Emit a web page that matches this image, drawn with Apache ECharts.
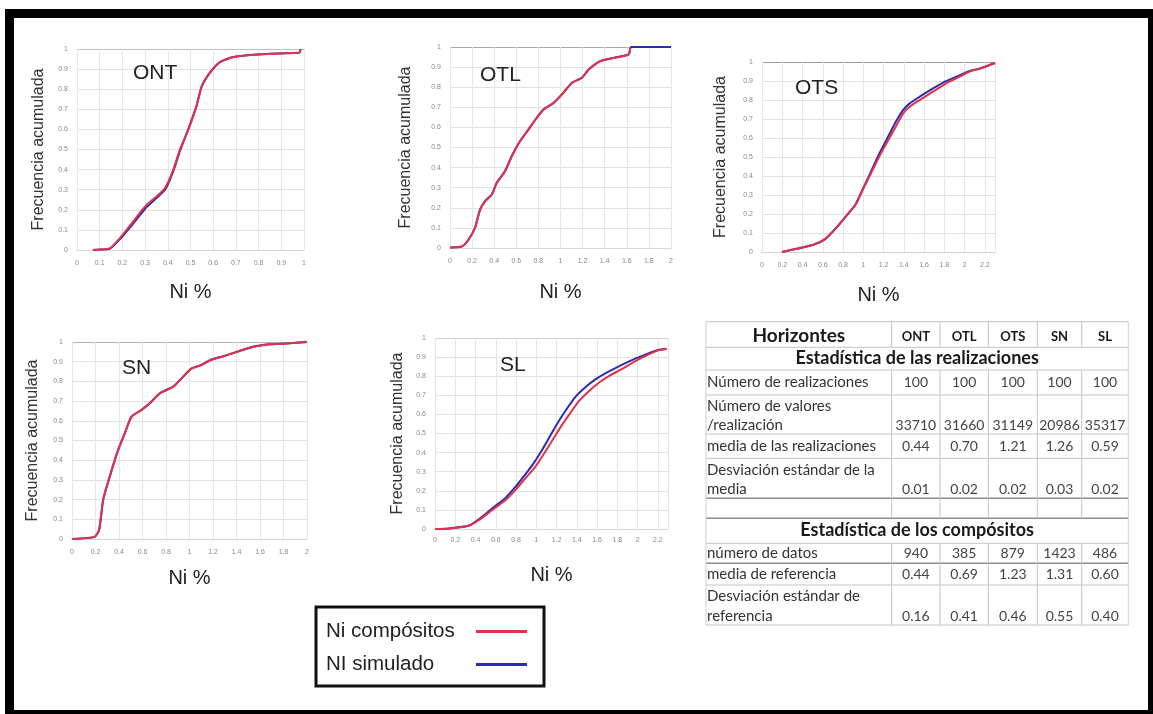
<!DOCTYPE html>
<html>
<head>
<meta charset="utf-8">
<script src="https://cdn.jsdelivr.net/npm/echarts@6/dist/echarts.min.js"></script>
<style>
html,body{margin:0;padding:0;background:#fff;}
#chart{width:1153px;height:714px;}
</style>
</head>
<body>
<div id="chart"></div>
<script>
// ---------------- DATA ----------------
var panelNames = ['ONT', 'OTL', 'OTS', 'SN', 'SL'];
var seriesNames = ['Ni compósitos', 'NI simulado'];
var xAxisTitle = 'Ni %';
var yAxisTitle = 'Frecuencia acumulada';
var xMax = [1, 2, 2.3, 2, 2.3];
var xStep = [0.1, 0.2, 0.2, 0.2, 0.2];

// cumulative frequency curves [Ni %, cumulative frequency]
var ontComp = [[0.07,0],[0.1,0.002],[0.144,0.008],[0.188,0.058],[0.247,0.141],[0.299,0.216],[0.35,0.266],[0.387,0.307],[0.424,0.399],[0.453,0.498],[0.49,0.598],[0.526,0.714],[0.549,0.814],[0.585,0.88],[0.629,0.934],[0.688,0.96],[0.776,0.972],[0.924,0.98],[0.98,0.983],[0.985,1.0]];
var ontSim  = [[0.07,0],[0.1,0.002],[0.144,0.006],[0.19,0.055],[0.25,0.135],[0.3,0.205],[0.35,0.258],[0.39,0.303],[0.425,0.395],[0.455,0.497],[0.49,0.6],[0.525,0.712],[0.55,0.815],[0.585,0.882],[0.63,0.935],[0.69,0.96],[0.78,0.972],[0.92,0.979],[0.98,0.982],[0.985,0.998]];

var otlComp = [[0,0.003],[0.106,0.008],[0.166,0.041],[0.227,0.1],[0.272,0.19],[0.317,0.232],[0.378,0.265],[0.423,0.323],[0.498,0.381],[0.559,0.456],[0.634,0.531],[0.71,0.589],[0.785,0.647],[0.846,0.688],[0.937,0.721],[1.012,0.763],[1.103,0.821],[1.193,0.846],[1.254,0.887],[1.359,0.929],[1.48,0.945],[1.616,0.962],[1.631,0.995]];
var otlSim  = [[0,0.003],[0.106,0.007],[0.166,0.04],[0.227,0.102],[0.272,0.192],[0.317,0.233],[0.378,0.266],[0.423,0.325],[0.498,0.383],[0.559,0.458],[0.634,0.532],[0.71,0.59],[0.785,0.648],[0.846,0.689],[0.937,0.722],[1.012,0.764],[1.103,0.822],[1.193,0.847],[1.254,0.888],[1.359,0.93],[1.48,0.946],[1.616,0.963],[1.64,1],[2,1]];

var otsComp = [[0.197,0],[0.345,0.018],[0.509,0.039],[0.624,0.07],[0.739,0.132],[0.837,0.194],[0.92,0.246],[1.002,0.335],[1.084,0.423],[1.166,0.511],[1.248,0.59],[1.33,0.669],[1.396,0.731],[1.461,0.766],[1.56,0.801],[1.691,0.845],[1.823,0.889],[1.954,0.924],[2.053,0.951],[2.151,0.965],[2.3,0.995]];
var otsSim  = [[0.197,0],[0.345,0.017],[0.509,0.038],[0.624,0.068],[0.739,0.13],[0.837,0.193],[0.92,0.247],[1.0,0.337],[1.08,0.428],[1.16,0.52],[1.24,0.602],[1.32,0.684],[1.39,0.745],[1.455,0.781],[1.55,0.815],[1.68,0.858],[1.81,0.898],[1.95,0.93],[2.05,0.953],[2.15,0.966],[2.3,0.995]];

var snComp = [[0,0],[0.193,0.012],[0.23,0.046],[0.264,0.198],[0.32,0.316],[0.391,0.451],[0.448,0.535],[0.505,0.62],[0.59,0.654],[0.661,0.688],[0.746,0.738],[0.86,0.772],[0.93,0.814],[1.016,0.865],[1.1,0.882],[1.186,0.91],[1.285,0.927],[1.399,0.949],[1.54,0.975],[1.682,0.988],[1.824,0.992],[2,1]];
var snSim  = [[0,0],[0.193,0.011],[0.232,0.048],[0.266,0.2],[0.322,0.318],[0.393,0.452],[0.45,0.537],[0.507,0.621],[0.592,0.656],[0.663,0.69],[0.748,0.74],[0.862,0.774],[0.932,0.815],[1.018,0.866],[1.102,0.884],[1.188,0.911],[1.287,0.928],[1.4,0.95],[1.54,0.976],[1.682,0.988],[1.824,0.993],[2,1]];

var slComp = [[0,0],[0.14,0.003],[0.337,0.017],[0.435,0.047],[0.566,0.1],[0.697,0.152],[0.795,0.205],[0.893,0.266],[0.992,0.327],[1.09,0.406],[1.172,0.476],[1.254,0.545],[1.336,0.607],[1.418,0.668],[1.516,0.72],[1.614,0.764],[1.712,0.799],[1.843,0.837],[1.974,0.878],[2.105,0.913],[2.203,0.935],[2.285,0.942]];
var slSim  = [[0,0],[0.14,0.003],[0.337,0.018],[0.43,0.05],[0.56,0.106],[0.69,0.16],[0.785,0.215],[0.88,0.278],[0.975,0.345],[1.07,0.425],[1.15,0.5],[1.23,0.572],[1.31,0.636],[1.39,0.694],[1.49,0.745],[1.59,0.786],[1.69,0.818],[1.82,0.853],[1.96,0.888],[2.1,0.918],[2.2,0.937],[2.285,0.944]];

// summary table
var tableHeader = 'Horizontes';
var tableCols = ['ONT', 'OTL', 'OTS', 'SN', 'SL'];
var sectionRealiz = 'Estadística de las realizaciones';
var sectionComp = 'Estadística de los compósitos';
var labelNumRealiz = ['Número de realizaciones'];
var labelNumValores = ['Número de valores', '/realización'];
var labelMediaRealiz = ['media de las realizaciones'];
var labelDesvRealiz = ['Desviación estándar de la', 'media'];
var labelNumDatos = ['número de datos'];
var labelMediaRef = ['media de referencia'];
var labelDesvRef = ['Desviación estándar de', 'referencia'];
var numRealiz = [100, 100, 100, 100, 100];
var numValores = [33710, 31660, 31149, 20986, 35317];
var mediaRealiz = [0.44, 0.70, 1.21, 1.26, 0.59];
var desvRealiz = [0.01, 0.02, 0.02, 0.03, 0.02];
var numDatos = [940, 385, 879, 1423, 486];
var mediaRef = [0.44, 0.69, 1.23, 1.31, 0.60];
var desvRef = [0.16, 0.41, 0.46, 0.55, 0.40];

// ---------------- LAYOUT ----------------
var grids = [
  {left: 77, top: 49, width: 227, height: 201},
  {left: 450, top: 47, width: 221, height: 201},
  {left: 762, top: 62, width: 233, height: 190},
  {left: 72, top: 342, width: 235, height: 197},
  {left: 435, top: 338, width: 233, height: 191}
];
var yNameGap = [30, 36, 33, 31, 29];
var xNameGap = [32, 34, 33, 29, 36];
var xLabelMargin = [10, 10, 10, 10, 8];
var titlePos = [[133, 63], [480, 65], [795, 78], [122, 358], [500, 355]];
var curves = [[ontComp, ontSim], [otlComp, otlSim], [otsComp, otsSim], [snComp, snSim], [slComp, slSim]];

var RED = '#e3304b', BLUE = '#2b2cb0';
var topLineColor = ['#c0c0c0', '#a8a8a8', '#9a9a9a', '#b0b0b0', '#d0d0d0'];

var option = {
  animation: false,
  backgroundColor: '#fff',
  textStyle: {fontFamily: 'Liberation Sans, Arial, sans-serif'},
  grid: grids.map(function (g) { return Object.assign({containLabel: false}, g); }),
  title: panelNames.map(function (n, i) {
    return {text: n, left: titlePos[i][0], top: titlePos[i][1], padding: 0,
      textStyle: {fontSize: 21, fontWeight: 'normal', color: '#222', fontFamily: 'Liberation Sans, Arial, sans-serif'}};
  }),
  xAxis: panelNames.map(function (n, i) {
    return {
      type: 'value', gridIndex: i, min: 0, max: xMax[i], interval: xStep[i],
      name: xAxisTitle, nameLocation: 'middle', nameGap: xNameGap[i],
      nameTextStyle: {fontSize: 20, color: '#222'},
      axisLine: {show: true, lineStyle: {color: '#d6d6d6'}},
      axisTick: {show: false},
      axisLabel: {fontSize: 7, color: '#8a8a8a', margin: xLabelMargin[i], showMaxLabel: xMax[i] === 2.3 ? false : true},
      splitLine: {show: true, lineStyle: {color: '#e6e6e6', width: 1}}
    };
  }),
  yAxis: panelNames.map(function (n, i) {
    var cols = [];
    for (var k = 0; k < 10; k++) cols.push('#e2e2e2');
    cols.push(topLineColor[i]);
    return {
      type: 'value', gridIndex: i, min: 0, max: 1, interval: 0.1,
      name: yAxisTitle, nameLocation: 'middle', nameGap: yNameGap[i], nameRotate: 90,
      nameTextStyle: {fontSize: 16, color: '#333'},
      axisLine: {show: false},
      axisTick: {show: false},
      axisLabel: {fontSize: 7, color: '#8a8a8a', margin: 9},
      splitLine: {show: true, lineStyle: {color: cols, width: 1}}
    };
  }),
  legend: {
    data: seriesNames,
    orient: 'vertical',
    left: 316, top: 607,
    align: 'right',
    icon: 'rect',
    itemWidth: 51, itemHeight: 3,
    itemGap: 12,
    padding: [14, 17, 11, 10],
    borderColor: '#111', borderWidth: 3,
    selectedMode: false,
    formatter: '{t|{name}}',
    textStyle: {
      fontSize: 20.5, color: '#222', fontFamily: 'Liberation Sans, Arial, sans-serif',
      rich: {t: {width: 145, align: 'left', fontSize: 20.5, color: '#222', fontFamily: 'Liberation Sans, Arial, sans-serif', height: 21}}
    }
  },
  series: [],
  graphic: []
};

curves.forEach(function (pair, i) {
  option.series.push({type: 'line', name: seriesNames[1], xAxisIndex: i, yAxisIndex: i, data: pair[1],
    symbol: 'none', smooth: 0.2, lineStyle: {color: BLUE, width: 2}, itemStyle: {color: BLUE}, z: 3});
  option.series.push({type: 'line', name: seriesNames[0], xAxisIndex: i, yAxisIndex: i, data: pair[0],
    symbol: 'none', smooth: 0.2, lineStyle: {color: RED, width: 2}, itemStyle: {color: RED}, z: 4});
});

// ---------------- TABLE (graphic) ----------------
var G = option.graphic;
// outer frame
G.push({type: 'rect', shape: {x: 9.5, y: 13.5, width: 1143, height: 701}, style: {fill: 'none', stroke: '#000', lineWidth: 9}, silent: true});

var colX = [706, 891.7, 940, 988.3, 1037.3, 1081.7, 1128.3];
var rowY = [321.7, 347.3, 370, 395, 434, 458.3, 498.3, 518.3, 543.3, 563.3, 585, 625];
var darkLines = {6: true, 7: true, 9: true};
var FONT = 'Lato, "Open Sans", sans-serif';

function hline(y, x0, x1, color, w) {
  G.push({type: 'line', shape: {x1: x0, y1: y, x2: x1, y2: y}, style: {stroke: color, lineWidth: w}, silent: true});
}
function vline(x, y0, y1, color, w) {
  G.push({type: 'line', shape: {x1: x, y1: y0, x2: x, y2: y1}, style: {stroke: color, lineWidth: w}, silent: true});
}
function txt(s, x, y, align, size, weight, color) {
  G.push({type: 'text', silent: true, style: {text: s, x: x, y: y, align: align, verticalAlign: 'middle',
    textAlign: align, textVerticalAlign: 'middle', font: weight + ' ' + size + 'px ' + FONT, fill: color}});
}

rowY.forEach(function (y, i) {
  hline(y, colX[0], colX[6], darkLines[i] ? '#8c8c8c' : '#c4c4c4', darkLines[i] ? 1.4 : 1);
});
vline(colX[0], rowY[0], rowY[11], '#cfcfcf', 1);
vline(colX[6], rowY[0], rowY[11], '#cfcfcf', 1);
for (var c = 1; c < 6; c++) {
  vline(colX[c], rowY[0], rowY[1], '#c4c4c4', 1);
  vline(colX[c], rowY[2], rowY[7], '#c4c4c4', 1);
  vline(colX[c], rowY[8], rowY[11], '#c4c4c4', 1);
}

var midX = (colX[0] + colX[6]) / 2;
txt(tableHeader, (colX[0] + colX[1]) / 2, (rowY[0] + rowY[1]) / 2 + 1, 'center', 19, 'bold', '#1a1a1a');
tableCols.forEach(function (n, i) {
  txt(n, (colX[i + 1] + colX[i + 2]) / 2, (rowY[0] + rowY[1]) / 2 + 2, 'center', 13, 'bold', '#1a1a1a');
});
txt(sectionRealiz, midX, (rowY[1] + rowY[2]) / 2, 'center', 18, 'bold', '#1a1a1a');
txt(sectionComp, midX, (rowY[7] + rowY[8]) / 2 - 1, 'center', 18, 'bold', '#1a1a1a');

function dataRow(labels, values, r, fmt) {
  var top = rowY[r], bot = rowY[r + 1];
  var ys;
  if (labels.length === 1) ys = [(top + bot) / 2];
  else ys = [top + 11.5, bot - 9];
  labels.forEach(function (l, j) { txt(l, colX[0] + 1, ys[j], 'left', 15, 'normal', '#333'); });
  values.forEach(function (v, i) {
    txt(fmt ? v.toFixed(2) : String(v), (colX[i + 1] + colX[i + 2]) / 2, ys[ys.length - 1], 'center', 14, 'normal', '#444');
  });
}
dataRow(labelNumRealiz, numRealiz, 2, false);
dataRow(labelNumValores, numValores, 3, false);
dataRow(labelMediaRealiz, mediaRealiz, 4, true);
dataRow(labelDesvRealiz, desvRealiz, 5, true);
dataRow(labelNumDatos, numDatos, 8, false);
dataRow(labelMediaRef, mediaRef, 9, true);
dataRow(labelDesvRef, desvRef, 10, true);

var chart = echarts.init(document.getElementById('chart'), null, {renderer: 'canvas'});
chart.setOption(option);
</script>
</body>
</html>
